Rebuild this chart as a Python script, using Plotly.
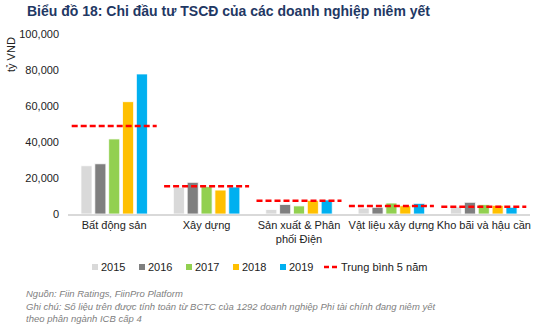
import plotly.graph_objects as go

# Capital expenditure of listed companies by sector (billion VND)
categories = ["Bất động sản", "Xây dựng", "Sản xuất & Phân<br>phối Điện",
              "Vật liệu xây dựng", "Kho bãi và hậu cần"]
years = ["2015", "2016", "2017", "2018", "2019"]
capex_2015 = [26800, 14800, 2500, 3300, 4000]
capex_2016 = [27900, 17600, 5300, 3700, 6500]
capex_2017 = [41700, 15200, 4500, 6100, 5200]
capex_2018 = [62400, 13300, 7600, 4600, 4800]
capex_2019 = [77800, 15000, 7800, 5900, 3700]
avg_5y = [48900, 15400, 7400, 4400, 4000]
avg_label = "Trung bình 5 năm"

series = [capex_2015, capex_2016, capex_2017, capex_2018, capex_2019]
colors = ["#D9D9D9", "#7F7F7F", "#92D050", "#FFC000", "#00B0F0"]
avg_color = "#FF0000"

W, H = 536, 328
L, R, T, B = 68, 6, 34, 114
pw, ph = W - L - R, H - T - B


def px_x(px):
    return (px - L) / pw


def px_y(py):
    return (H - B - py) / ph


fig = go.Figure()
for yr, vals, col in zip(years, series, colors):
    fig.add_trace(go.Bar(
        x=categories, y=vals, name=yr,
        marker=dict(color=col, line=dict(color="white", width=0.8)),
    ))

# Five-year average drawn as a dashed segment across each category slot
seg_x, seg_y = [], []
for i, v in enumerate(avg_5y):
    seg_x += [i - 0.46, i + 0.46, None]
    seg_y += [v, v, None]
fig.add_trace(go.Scatter(
    x=seg_x, y=seg_y, xaxis="x2", mode="lines", name=avg_label,
    line=dict(color=avg_color, width=2.5, dash="6px,3px"),
))

font_family = "Liberation Sans, Arial, sans-serif"
text_color = "#222222"
note_color = "#7F7F7F"

fig.update_layout(
    width=W, height=H,
    margin=dict(l=L, r=R, t=T, b=B),
    paper_bgcolor="white", plot_bgcolor="white",
    font=dict(family=font_family, size=11, color=text_color),
    barmode="group", bargap=0.25, bargroupgap=0.2,
    showlegend=False,
    xaxis=dict(
        type="category", range=[-0.5, 4.5],
        showline=True, linecolor="#D9D9D9", linewidth=1.5,
        showgrid=False, ticks="", tickfont=dict(size=11, color=text_color),
    ),
    xaxis2=dict(
        overlaying="x", range=[-0.5, 4.5], visible=False,
    ),
    yaxis=dict(
        range=[0, 100000], tickvals=[0, 20000, 40000, 60000, 80000, 100000],
        tickformat=",d", showgrid=False, zeroline=False, showline=False,
        ticks="", ticklabelstandoff=8, tickfont=dict(size=11, color=text_color),
    ),
)

# Compact legend row: small colour squares followed by the year,
# then the dashed red key for the five-year average
shapes = []
annotations = []
leg_y = 267
leg_x0, leg_step = 92, 47
for i, (yr, col) in enumerate(zip(years, colors)):
    sx = leg_x0 + i * leg_step
    shapes.append(dict(type="rect", xref="paper", yref="paper",
                       x0=px_x(sx), x1=px_x(sx + 6),
                       y0=px_y(leg_y + 3), y1=px_y(leg_y - 3),
                       fillcolor=col, line=dict(width=0)))
    annotations.append(dict(text=yr, x=px_x(sx + 7), y=px_y(leg_y),
                            xanchor="left", yanchor="middle",
                            font=dict(size=11, color=text_color)))
lx = leg_x0 + 5 * leg_step - 3
shapes.append(dict(type="line", xref="paper", yref="paper",
                   x0=px_x(lx), x1=px_x(lx + 14), y0=px_y(leg_y), y1=px_y(leg_y),
                   line=dict(color=avg_color, width=2.5, dash="5px,3px")))
annotations.append(dict(text=avg_label, x=px_x(lx + 15), y=px_y(leg_y),
                        xanchor="left", yanchor="middle",
                        font=dict(size=11, color=text_color)))

annotations += [
    dict(text="<b>Biểu đồ 18: Chi đầu tư TSCĐ của các doanh nghiệp niêm yết</b>",
         x=px_x(25), y=px_y(11), xanchor="left", yanchor="middle",
         font=dict(size=14, color="#1F3864")),
    dict(text="tỷ VND", textangle=-90,
         x=px_x(11), y=px_y(55), xanchor="center", yanchor="middle",
         font=dict(size=11, color=text_color)),
    dict(text="<i>Nguồn: Fiin Ratings, FiinPro Platform</i>",
         x=px_x(24), y=px_y(293), xanchor="left", yanchor="middle",
         font=dict(size=9.5, color=note_color)),
    dict(text="<i>Ghi chú: Số liệu trên được tính toán từ BCTC của 1292 doanh nghiệp Phi tài chính đang niêm yết</i>",
         x=px_x(24), y=px_y(306), xanchor="left", yanchor="middle",
         font=dict(size=9.5, color=note_color)),
    dict(text="<i>theo phân ngành ICB cấp 4</i>",
         x=px_x(24), y=px_y(318), xanchor="left", yanchor="middle",
         font=dict(size=9.5, color=note_color)),
]
for a in annotations:
    a.update(xref="paper", yref="paper", showarrow=False)
fig.update_layout(annotations=annotations, shapes=shapes)

fig.write_html("out.html")
